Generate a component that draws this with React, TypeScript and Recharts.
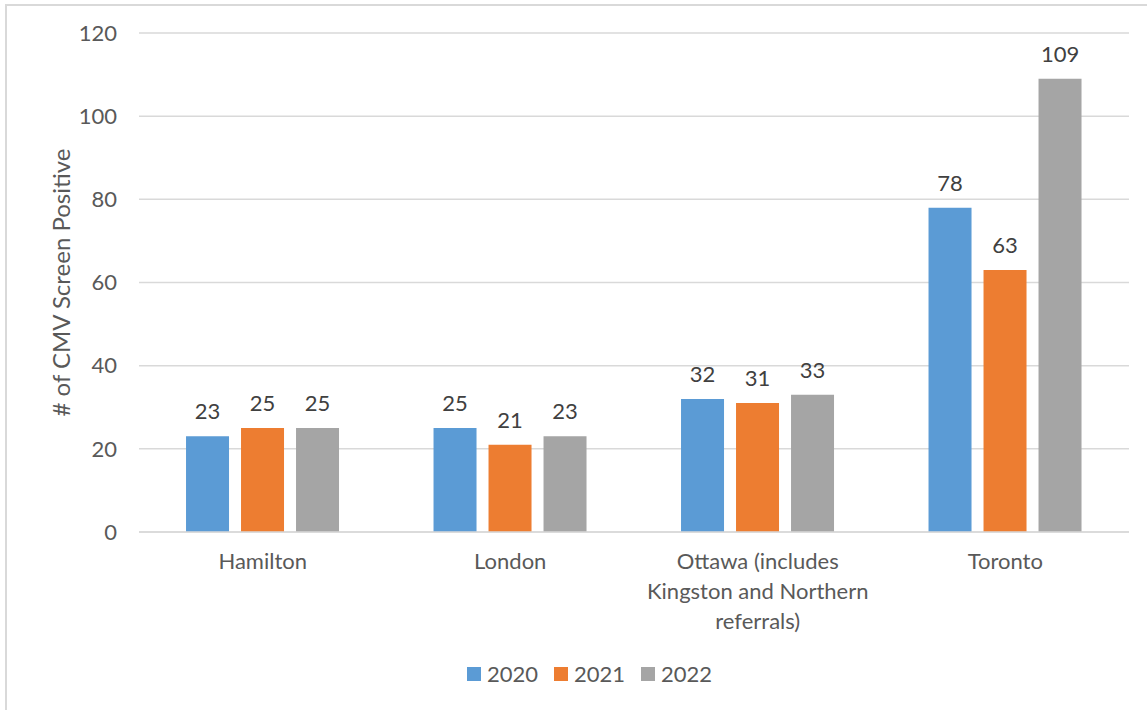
import { BarChart, Bar, XAxis, YAxis, CartesianGrid, Legend, LabelList } from 'recharts';

const categories = ['Hamilton', 'London', 'Ottawa (includes Kingston and Northern referrals)', 'Toronto'];
const values2020 = [23, 25, 32, 78];
const values2021 = [25, 21, 31, 63];
const values2022 = [25, 23, 33, 109];
const yTicks = [0, 20, 40, 60, 80, 100, 120];

const series = [
  { key: '2020', values: values2020, color: '#5b9bd5' },
  { key: '2021', values: values2021, color: '#ed7d31' },
  { key: '2022', values: values2022, color: '#a5a5a5' },
];

const data = categories.map((name, i) => {
  const row: any = { name };
  series.forEach((s) => {
    row[s.key] = s.values[i];
  });
  return row;
});

const FONT = 'Lato, "Open Sans", sans-serif';
const TEXT = '#595959';
const SIZE = 22;

let ctx: CanvasRenderingContext2D | null = null;
const measure = (s: string) => {
  if (!ctx) ctx = document.createElement('canvas').getContext('2d');
  if (!ctx) return s.length * SIZE * 0.5;
  ctx.font = `${SIZE}px ${FONT}`;
  return ctx.measureText(s).width;
};

// wrap words into lines no wider than maxWidth
const wrap = (label: string, maxWidth: number) => {
  const lines: string[] = [];
  let cur = '';
  label.split(' ').forEach((w) => {
    const next = cur ? cur + ' ' + w : w;
    if (cur && measure(next) > maxWidth) {
      lines.push(cur);
      cur = w;
    } else {
      cur = next;
    }
  });
  if (cur) lines.push(cur);
  return lines;
};

const CategoryTick = ({ x, y, payload }: any) => {
  const lines = wrap(payload.value, 235);
  return (
    <text x={x} y={y} textAnchor="middle" fontSize={SIZE} fontFamily={FONT} fill={TEXT}>
      {lines.map((l, i) => (
        <tspan key={i} x={x} dy={i === 0 ? '0.9em' : 30}>
          {l}
        </tspan>
      ))}
    </text>
  );
};

const YLabel = ({ viewBox }: any) => {
  const cx = 60;
  const cy = viewBox.y + viewBox.height / 2;
  return (
    <text
      x={cx}
      y={cy}
      transform={`rotate(-90, ${cx}, ${cy})`}
      textAnchor="middle"
      dominantBaseline="central"
      fontSize={24}
      fontFamily={FONT}
      fill={TEXT}
    >
      # of CMV Screen Positive
    </text>
  );
};

const renderLegend = ({ payload }: any) => (
  <div style={{ display: 'flex', alignItems: 'center', fontFamily: FONT, fontSize: SIZE, color: TEXT }}>
    {(payload || []).map((p: any) => (
      <div key={p.value} style={{ display: 'flex', alignItems: 'center', marginRight: 16 }}>
        <span style={{ width: 14, height: 14, background: p.color, display: 'inline-block', marginRight: 6 }} />
        <span>{p.value}</span>
      </div>
    ))}
  </div>
);

export default function App() {
  return (
    <div style={{ position: 'absolute', left: 0, top: 0, width: 1147, height: 710, overflow: 'hidden', background: '#fff' }}>
      <div
        style={{
          position: 'absolute',
          left: 5,
          top: 4,
          width: 1160,
          height: 730,
          border: '2px solid #d9d9d9',
        }}
      />
      <BarChart
        width={1147}
        height={710}
        data={data}
        margin={{ top: 33, right: 18, bottom: 148, left: 0 }}
        barCategoryGap="19%"
        barGap={12}
      >
        <CartesianGrid vertical={false} stroke="#d9d9d9" strokeWidth={1.5} />
        <XAxis
          dataKey="name"
          tick={<CategoryTick />}
          tickLine={false}
          axisLine={{ stroke: '#d9d9d9', strokeWidth: 1.5 }}
          tickMargin={11}
          interval={0}
        />
        <YAxis
          width={139}
          domain={[0, 120]}
          ticks={yTicks}
          tickLine={false}
          axisLine={false}
          tickSize={0}
          tickMargin={22}
          tick={{ fontSize: SIZE, fontFamily: FONT, fill: TEXT }}
          label={<YLabel />}
        />
        <Legend
          content={renderLegend}
          layout="horizontal"
          verticalAlign="middle"
          align="center"
          wrapperStyle={{ left: 467, top: 660, width: 'auto' }}
        />
        {series.map((s) => (
          <Bar key={s.key} dataKey={s.key} name={s.key} fill={s.color} isAnimationActive={false}>
            <LabelList
              dataKey={s.key}
              position="top"
              offset={17}
              style={{ fontSize: SIZE, fontFamily: FONT, fill: '#404040' }}
            />
          </Bar>
        ))}
      </BarChart>
    </div>
  );
}
